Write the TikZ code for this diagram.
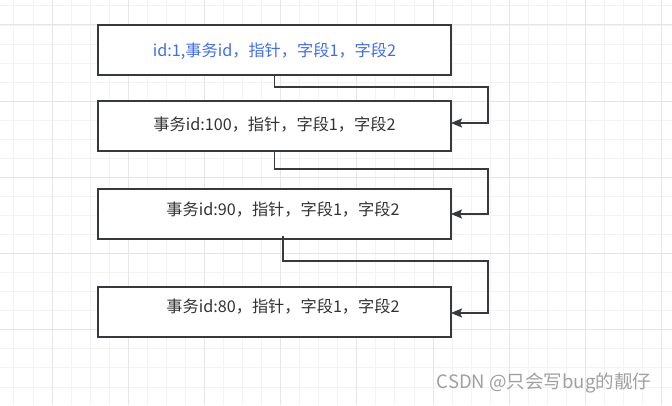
\documentclass[tikz,border=0pt]{standalone}
\usepackage{fontspec}
\setmainfont{Noto Sans CJK SC}
\usetikzlibrary{arrows.meta,calc}
\definecolor{minorgrid}{RGB}{243,243,243}
\definecolor{majorgrid}{RGB}{230,230,230}
\definecolor{boxline}{RGB}{54,57,61}
\definecolor{txt}{RGB}{51,51,51}
\definecolor{bluetxt}{RGB}{66,110,228}
\definecolor{wm}{RGB}{160,160,160}
\tikzset{
  boxnode/.style={draw=boxline, line width=1.6pt, fill=white, minimum width=353pt, minimum height=50pt, inner sep=0pt, outer sep=0pt},
  label text/.style={text=txt, font=\fontsize{16.2}{19}\selectfont, inner sep=0pt, anchor=center},
  link/.style={draw=boxline, line width=1.5pt, -{Stealth[length=11pt,width=9pt,inset=2pt]}},
}
\begin{document}
\begin{tikzpicture}[x=1pt,y=-1pt]
\useasboundingbox (0,0) rectangle (672,406);
\fill[white] (0,0) rectangle (672,406);
% grid
\foreach \k in {-3,...,33} {
  \draw[minorgrid, line width=0.9pt] ({52+19.05*\k},0) -- ({52+19.05*\k},405);
}
\foreach \k in {-2,...,20} {
  \draw[minorgrid, line width=0.9pt] (0,{25+19.05*\k}) -- (672,{25+19.05*\k});
}
\foreach \k in {-1,...,8} {
  \draw[majorgrid, line width=1pt] ({52+76.2*\k},0) -- ({52+76.2*\k},405);
}
\foreach \k in {0,...,5} {
  \draw[majorgrid, line width=1pt] (0,{25+76.2*\k}) -- (672,{25+76.2*\k});
}
% boxes
\node[boxnode] (b1) at (274.5,50) {};
\node[boxnode] (b2) at (274.5,126) {};
\node[boxnode] (b3) at (274.5,214) {};
\node[boxnode] (b4) at (274.5,312) {};
% texts
\node[label text, text=bluetxt] (t1) at (274.5,51) {id:1,事务id，指针，字段1，字段2};
\node[label text] (t2) at (274.5,124.5) {事务id:100，指针，字段1，字段2};
\node[label text] (t3) at (283,210) {事务id:90，指针，字段1，字段2};
\node[label text] (t4) at (283,307) {事务id:80，指针，字段1，字段2};
% bend points
\coordinate (k1) at (488,87);
\coordinate (k2) at (488,169);
\coordinate (k3) at (488,261);
% connectors
\draw[link] (b1.south) |- (k1) |- ([yshift=3pt]b2.east);
\draw[link] (b2.south) |- (k2) |- (b3.east);
\draw[link] ([xshift=8.5pt,yshift=3pt]b3.south) |- (k3) |- ([yshift=-1pt]b4.east);
% watermark
\node[text=wm, font=\fontsize{18.5}{21}\selectfont, inner sep=0pt] (wm) at (544,383) {CSDN @只会写bug的靓仔};
\end{tikzpicture}
\end{document}
